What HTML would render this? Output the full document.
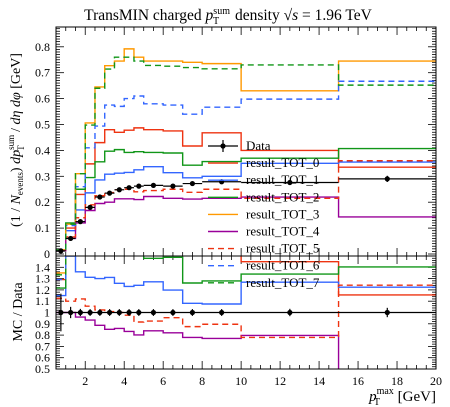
<!DOCTYPE html>
<html><head><meta charset="utf-8"><style>
html,body{margin:0;padding:0;background:#fff;}
svg{display:block;font-family:"Liberation Serif",serif;}
</style></head><body>
<svg id="chart" width="450" height="407" viewBox="0 0 450 407">
<defs>
<clipPath id="cm"><rect x="56" y="27" width="380" height="229"/></clipPath>
<clipPath id="cr"><rect x="56" y="256" width="380" height="113"/></clipPath>
</defs>
<g id="grid"></g>
<g id="series-main" clip-path="url(#cm)"></g>
<g id="series-ratio" clip-path="url(#cr)"></g>
<g id="legend"></g>
<text x="228" y="20" font-size="15.5" text-anchor="middle">TransMIN charged <tspan font-style="italic">p</tspan><tspan font-size="10" dy="-6">sum</tspan><tspan font-size="10" dx="-17" dy="10">T</tspan><tspan dy="-4" dx="12"> density </tspan><tspan>√<tspan font-style="italic">s</tspan> = 1.96 TeV</tspan></text>
<text transform="translate(20,140) rotate(-90)" font-size="14" text-anchor="middle">(1 / <tspan font-style="italic">N</tspan><tspan font-size="9" dy="3">events</tspan><tspan dy="-3">) </tspan><tspan font-style="italic">dp</tspan><tspan font-size="9" dy="-6">sum</tspan><tspan font-size="9" dx="-16" dy="10">T</tspan><tspan dy="-4" dx="10"> / </tspan><tspan font-style="italic">dη dφ</tspan> [GeV]</text>
<text transform="translate(22,312) rotate(-90)" font-size="14" text-anchor="middle">MC / Data</text>
<text x="436" y="401" font-size="15" text-anchor="end"><tspan font-style="italic">p</tspan><tspan font-size="10" dy="-7">max</tspan><tspan font-size="10" dx="-20" dy="11">T</tspan><tspan dy="-4" dx="14"> [GeV]</tspan></text>
<rect x="56" y="27" width="380" height="229" fill="none" stroke="#000"/>
<rect x="56" y="256" width="380" height="113" fill="none" stroke="#000"/>
</svg>
<script>
const edges=[0.5,1,1.5,2,2.5,3,3.5,4,4.5,5,6,7,8,10,15,20];
const dataX=[0.75,1.25,1.75,2.25,2.75,3.25,3.75,4.25,4.75,5.5,6.5,7.5,9,12.5,17.5];
const dataY=[0.012,0.06,0.125,0.18,0.22,0.235,0.248,0.256,0.262,0.265,0.262,0.272,0.279,0.276,0.29];
const dataErr=[0.002,0.003,0.004,0.005,0.006,0.006,0.007,0.007,0.007,0.007,0.007,0.008,0.008,0.009,0.012];
const tot0=[0.0155,0.10,0.23,0.348,0.43,0.48,0.47,0.478,0.487,0.48,0.475,0.417,0.468,0.40,0.335];
const tot1=[0.0138,0.09,0.17,0.236,0.286,0.308,0.312,0.315,0.325,0.337,0.314,0.294,0.30,0.35,0.355];
const tot2=[0.0146,0.12,0.25,0.295,0.356,0.397,0.403,0.392,0.395,0.392,0.39,0.343,0.357,0.37,0.407];
const tot3=[0.0162,0.115,0.31,0.506,0.645,0.727,0.745,0.792,0.76,0.745,0.745,0.74,0.735,0.63,0.745];
const tot4=[0.012,0.06,0.12,0.168,0.195,0.2,0.213,0.213,0.21,0.222,0.215,0.212,0.215,0.22,0.143];
const tot5=[0.0135,0.066,0.14,0.19,0.225,0.237,0.248,0.25,0.24,0.245,0.25,0.238,0.25,0.215,0.36];
const tot6=[0.0155,0.11,0.26,0.41,0.494,0.575,0.57,0.60,0.61,0.58,0.575,0.54,0.567,0.598,0.667];
const tot7=[0.016,0.115,0.31,0.498,0.64,0.714,0.76,0.76,0.745,0.728,0.725,0.72,0.715,0.73,0.652];
const seriesNames=["result_TOT_0","result_TOT_1","result_TOT_2","result_TOT_3","result_TOT_4","result_TOT_5","result_TOT_6","result_TOT_7"];
const seriesVals=[tot0,tot1,tot2,tot3,tot4,tot5,tot6,tot7];
const colors=["#ee3311","#3366ff","#109618","#ff9900","#990099","#ee3311","#3366ff","#109618"];
const dashes=["","","","","","6,4","6,4","6,4"];
const xTicks=[2,4,6,8,10,12,14,16,18,20];
const yTicks=[0,0.1,0.2,0.3,0.4,0.5,0.6,0.7,0.8];
const rTicks=[0.5,0.6,0.7,0.8,0.9,1,1.1,1.2,1.3,1.4];

const NS="http://www.w3.org/2000/svg";
const X0=56,X1=436,MY0=27,MY1=256,RY0=256,RY1=369;
const xs=v=>X0+(v-0.5)/(19.5)*(X1-X0);
const ym=v=>254-v*259;
const yr=v=>RY1-(v-0.5)*113;
function mk(tag,attrs,parent){const e=document.createElementNS(NS,tag);for(const k in attrs)e.setAttribute(k,attrs[k]);parent.appendChild(e);return e;}
const grid=document.getElementById('grid'),gm=document.getElementById('series-main'),gr=document.getElementById('series-ratio'),lg=document.getElementById('legend');

for(let v=0.5;v<=20.001;v+=0.5){
  const major=xTicks.includes(v);const L=major?8:4;const x=xs(v);
  [[MY0,1],[MY1,-1],[RY0,1],[RY1,-1]].forEach(([y,d])=>{
    const t=mk('line',{x1:x,x2:x,y1:y,y2:y+d*L,stroke:'#000','stroke-width':0.8},grid);
    
    
  });
}
xTicks.forEach(v=>{
  const t=mk('text',{x:xs(v),y:385,'font-size':12,'text-anchor':'middle'},grid);t.textContent=v;
  
  
});
for(let i=0;i<=87;i++){const v=i/100;const y=ym(v);if(y<MY0)continue;const major=i%10===0;const L=major?8:4;
  [[X0,1],[X1,-1]].forEach(([x,d])=>{const t=mk('line',{x1:x,x2:x+d*L,y1:y,y2:y,stroke:'#000','stroke-width':0.8},grid);
  
  });
}
yTicks.forEach(v=>{const t=mk('text',{x:50,y:ym(v)+4,'font-size':12,'text-anchor':'end'},grid);t.textContent=v===0?'0':v.toFixed(1);
  
  });
for(let i=50;i<=150;i+=2){const y=yr(i/100);const major=i%10===0;const L=major?8:4;
  [[X0,1],[X1,-1]].forEach(([x,d])=>{const t=mk('line',{x1:x,x2:x+d*L,y1:y,y2:y,stroke:'#000','stroke-width':0.8},grid);
  
  });
}
rTicks.forEach(v=>{const t=mk('text',{x:50,y:yr(v)+4,'font-size':12,'text-anchor':'end'},grid);t.textContent=v===1?'1':v.toFixed(1);
  
  });

function stepPath(vals,yf){let d='';for(let i=0;i<vals.length;i++){const x0=xs(edges[i]),x1=xs(edges[i+1]),y=yf(vals[i]);d+=(i===0?'M':'L')+x0+','+y+'L'+x1+','+y;}return d;}
seriesVals.forEach((vals,k)=>{
  const p=mk('path',{d:stepPath(vals,ym),fill:'none',stroke:colors[k],'stroke-width':1.4,'stroke-dasharray':dashes[k]},gm);
  
  
  const rv=vals.map((v,i)=>v/dataY[i]);
  const q=mk('path',{d:stepPath(rv,yr),fill:'none',stroke:colors[k],'stroke-width':1.4,'stroke-dasharray':dashes[k]},gr);
  
  
});
const l1=mk('line',{x1:X0,x2:X1,y1:yr(1),y2:yr(1),stroke:'#000','stroke-width':1.2},gr);


dataX.forEach((x,i)=>{
  const g=mk('g',{},gm);
  
  
  mk('line',{x1:xs(edges[i]),x2:xs(edges[i+1]),y1:ym(dataY[i]),y2:ym(dataY[i]),stroke:'#000','stroke-width':1.2},g);
  mk('line',{x1:xs(x),x2:xs(x),y1:ym(dataY[i]-dataErr[i]),y2:ym(dataY[i]+dataErr[i]),stroke:'#000','stroke-width':1.2},g);
  mk('circle',{cx:xs(x),cy:ym(dataY[i]),r:2.6,fill:'#000'},g);
  const h=mk('g',{},gr);
  
  
  const re=Math.max(dataErr[i]/dataY[i],0.03);
  mk('line',{x1:xs(x),x2:xs(x),y1:yr(1-re),y2:yr(1+re),stroke:'#000','stroke-width':1.2},h);
  mk('circle',{cx:xs(x),cy:yr(1),r:2.6,fill:'#000'},h);
});
const names=["Data"].concat(seriesNames);
names.forEach((n,i)=>{
  const y=150+i*17.1;
  const g=mk('g',{},lg);
  
  
  if(i===0){mk('line',{x1:208,x2:238,y1:y-4,y2:y-4,stroke:'#000','stroke-width':1.2},g);
    mk('line',{x1:223,x2:223,y1:y-10,y2:y+2,stroke:'#000','stroke-width':1.2},g);
    mk('circle',{cx:223,cy:y-4,r:2.6,fill:'#000'},g);}
  else mk('line',{x1:208,x2:238,y1:y-4,y2:y-4,stroke:colors[i-1],'stroke-width':1.4,'stroke-dasharray':dashes[i-1]},g);
  const t=mk('text',{x:246,y:y,'font-size':13},g);t.textContent=n;
});
</script>
</body></html>
